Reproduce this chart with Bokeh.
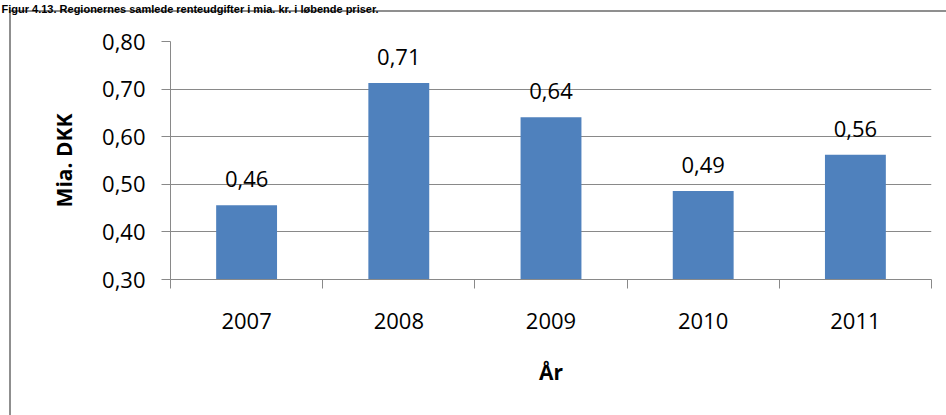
from bokeh.plotting import figure
from bokeh.models import (FixedTicker, LinearAxis, CustomJSTickFormatter, Range1d,
                          ColumnDataSource, LabelSet)
from bokeh.core.properties import value
from bokeh.embed import file_html
from bokeh.resources import INLINE

# ---- data ----
years = ["2007", "2008", "2009", "2010", "2011"]
values = [0.456, 0.713, 0.641, 0.486, 0.562]
y_ticks = [0.30, 0.40, 0.50, 0.60, 0.70, 0.80]
title = "Figur 4.13. Regionernes samlede renteudgifter i mia. kr. i løbende priser."
y_title = "Mia. DKK"
x_title = "År"

# ---- styling ----
BAR = "#4F81BD"
GRID = "#898989"
FRAME = "#8f8f8f"
FONT = "Open Sans"
FS = "22px"

W, H = 946, 415
xs = [i + 0.5 for i in range(len(years))]
bounds = list(range(len(years) + 1))
labels = [f"{v:.2f}".replace(".", ",") for v in values]

p = figure(width=W, height=H, output_backend="svg", toolbar_location=None,
           x_range=Range1d(0, len(years)), y_range=Range1d(y_ticks[0], y_ticks[-1]),
           min_border_left=170, min_border_right=15, min_border_top=40,
           min_border_bottom=136)
p.outline_line_color = None
p.background_fill_color = "white"
p.border_fill_color = None
# outer chart frame (left and top edges), as a CSS backdrop behind the transparent border
p.styles = {
    "background": (f"linear-gradient({FRAME},{FRAME}) 9px 10px / 2px 100% no-repeat, "
                   f"linear-gradient({FRAME},{FRAME}) 9px 10px / 100% 2px no-repeat, #ffffff"),
}

# y axis
p.yaxis.ticker = FixedTicker(ticks=y_ticks)
p.yaxis.formatter = CustomJSTickFormatter(code="return tick.toFixed(2).replace('.', ',');")
p.yaxis.major_tick_out = 9
p.yaxis.major_tick_in = 0
p.yaxis.minor_tick_out = 0
p.yaxis.minor_tick_in = 0
p.yaxis.axis_line_color = GRID
p.yaxis.major_tick_line_color = GRID
p.yaxis.major_label_text_font = FONT
p.yaxis.major_label_text_font_size = FS
p.yaxis.major_label_text_color = "black"
p.yaxis.major_label_standoff = 16
p.yaxis.axis_label = y_title
p.yaxis.axis_label_text_font = FONT
p.yaxis.axis_label_text_font_size = "21px"
p.yaxis.axis_label_text_font_style = "bold"
p.yaxis.axis_label_text_color = "black"
p.yaxis.axis_label_standoff = 21

p.ygrid.grid_line_color = GRID
p.xgrid.visible = False

# x axis: category boundary ticks (the default lower axis)
bax = p.below[0]
bax.ticker = FixedTicker(ticks=bounds)
bax.formatter = CustomJSTickFormatter(code="return '';")
bax.major_tick_out = 9
bax.major_tick_in = 0
bax.minor_tick_out = 0
bax.minor_tick_in = 0
bax.axis_line_color = GRID
bax.major_tick_line_color = GRID
bax.major_label_standoff = 0
bax.major_label_text_font_size = "1px"

# x axis: category labels
lab_axis = LinearAxis(ticker=FixedTicker(ticks=xs),
                      major_label_overrides={x: y for x, y in zip(xs, years)},
                      major_tick_out=0, major_tick_in=0,
                      minor_tick_out=0, minor_tick_in=0,
                      axis_line_color=None,
                      major_label_text_font=FONT, major_label_text_font_size=FS,
                      major_label_text_color="black",
                      major_label_standoff=24,
                      axis_label=x_title, axis_label_text_font=FONT,
                      axis_label_text_font_size="21px",
                      axis_label_text_font_style="bold",
                      axis_label_text_color="black",
                      axis_label_standoff=26)
p.add_layout(lab_axis, "below")

# blank spacer axis above the frame, so that the caption sits at the very top
spacer = LinearAxis(ticker=FixedTicker(ticks=[bounds[0]]),
                    formatter=CustomJSTickFormatter(code="return '';"),
                    major_tick_out=27, major_tick_in=0, minor_tick_out=0, minor_tick_in=0,
                    major_tick_line_color="white", axis_line_color=None,
                    major_label_standoff=0, major_label_text_font_size="1px")
p.add_layout(spacer, "above")

# caption in the thin strip above the chart frame
p.title.text = title
p.title.text_font = "Liberation Sans"
p.title.text_font_size = "11px"
p.title.text_font_style = "bold"
p.title.text_color = "black"
p.title.align = "left"
p.title.offset = -169
p.title.standoff = 0

src = ColumnDataSource(dict(x=xs, top=values, label=labels))
p.vbar(x="x", top="top", bottom=y_ticks[0], width=0.4, source=src,
       fill_color=BAR, line_color=None)

p.add_layout(LabelSet(x="x", y="top", text="label", source=src, y_offset=18,
                      text_align="center", text_baseline="alphabetic",
                      text_font=value(FONT), text_font_size=value(FS),
                      text_color="black"))

open("out.html", "w").write(file_html(p, INLINE))
